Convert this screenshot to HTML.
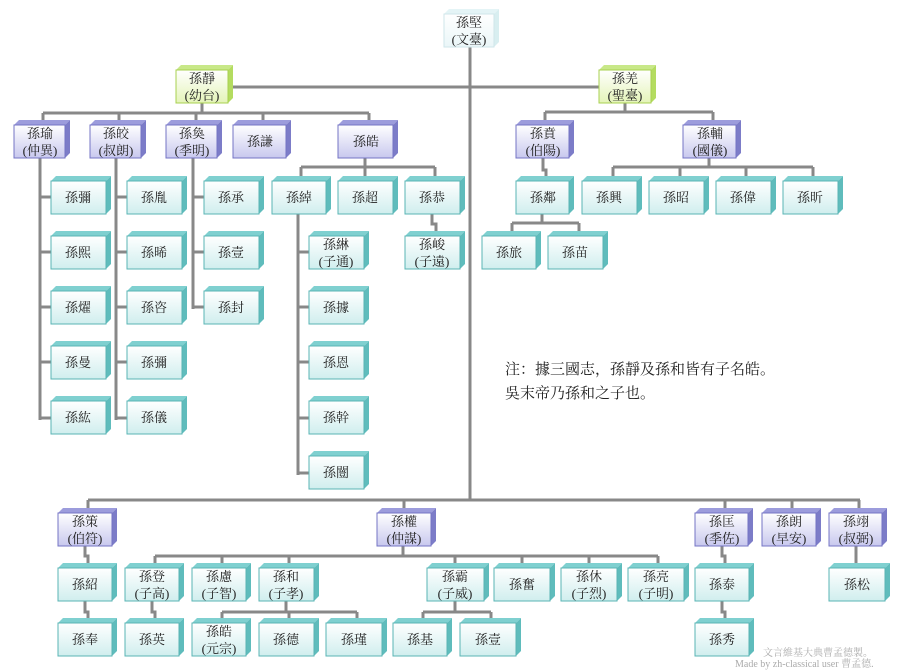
<!DOCTYPE html>
<html><head><meta charset="utf-8"><style>
body{margin:0;background:#fff;}
svg{display:block;font-family:"Liberation Serif","Noto Serif CJK SC","Noto Sans CJK TC",serif;}
.t rect{fill:url(#gt);stroke:#5ab4b4;stroke-width:1}
.t .s{fill:#5fbcbc}.t .p{fill:#7fd0d0}
.u rect{fill:url(#gu);stroke:#7474c4;stroke-width:1}
.u .s{fill:#7c7cc8}.u .p{fill:#9c9cdc}
.g rect{fill:url(#gg);stroke:#a8d050;stroke-width:1}
.g .s{fill:#b4dc60}.g .p{fill:#c8e888}
.r rect{fill:url(#gr);stroke:#cfe6ea;stroke-width:1}
.r .s{fill:#d8eef0}.r .p{fill:#e4f4f6}
text{font-size:13px;fill:#222;text-anchor:middle}
.l{stroke:#888;stroke-width:3;fill:none}
</style></head><body>
<svg width="900" height="670" viewBox="0 0 900 670" xmlns="http://www.w3.org/2000/svg">
<defs>
<linearGradient id="gt" x1="0" y1="0" x2="0" y2="1"><stop offset="0" stop-color="#ffffff"/><stop offset="1" stop-color="#d0eeee"/></linearGradient>
<linearGradient id="gu" x1="0" y1="0" x2="0" y2="1"><stop offset="0" stop-color="#ffffff"/><stop offset="1" stop-color="#c8c8ee"/></linearGradient>
<linearGradient id="gg" x1="0" y1="0" x2="0" y2="1"><stop offset="0" stop-color="#ffffff"/><stop offset="1" stop-color="#e4f4b8"/></linearGradient>
<linearGradient id="gr" x1="0" y1="0" x2="0" y2="1"><stop offset="0" stop-color="#ffffff"/><stop offset="1" stop-color="#eaf6f8"/></linearGradient>
</defs>

<!-- lines -->
<path class="l" d="M470 47V500 M228 87H599
M202 103V113 M43 113H369 M43 113V125 M119 113V125 M196 113V125 M263 113V125 M369 113V125
M40 158V420 M40 197H51 M40 252H51 M40 307H51 M40 362H51 M40 418H51
M116 158V420 M116 197H127 M116 252H127 M116 307H127 M116 362H127 M116 418H127
M193 158V309 M193 197H204 M193 252H204 M193 307H204
M365 158V167 M301 167H435 M301 167V181 M365 167V181 M435 167V181
M298 213V475 M298 252H309 M298 307H309 M298 362H309 M298 418H309 M298 473H309
M432 213V224H436V236
M625 103V112 M545 112H713 M545 112V125 M713 112V125
M543 158V170H546V181
M542 213V223 M512 223H579 M512 223V236 M579 223V236
M709 158V167 M613 167H813 M613 167V181 M680 167V181 M746 167V181 M813 167V181
M88 500H860 M88 500V513 M404 500V513 M725 500V513 M792 500V513 M859 500V513
M85 545V556H88V568 M85 601V612H88V623
M403 545V556 M155 556H658 M155 556V568 M222 556V568 M289 556V568 M455 556V568 M522 556V568 M589 556V568 M658 556V568
M152 601V612H155V623
M286 601V612 M222 612H357 M222 612V623 M289 612V623 M357 612V623
M455 601V612 M423 612H491 M423 612V623 M491 612V623
M722 545V556H725V568 M722 601V612H725V623
M856 545V568"/>

<!-- root -->
<g class="r"><polygon class="p" points="444,14 449,9 499,9 494,14"/><polygon class="s" points="494,14 499,9 499,42 494,47"/><rect x="444" y="14" width="50" height="33"/><text x="469" y="27">孫堅</text><text x="469" y="44">(文臺)</text></g>

<!-- green -->
<g class="g"><polygon class="p" points="176,70 181,65 233,65 228,70"/><polygon class="s" points="228,70 233,65 233,98 228,103"/><rect x="176" y="70" width="52" height="33"/><text x="202" y="83">孫靜</text><text x="202" y="100">(幼台)</text></g>
<g class="g"><polygon class="p" points="599,70 604,65 656,65 651,70"/><polygon class="s" points="651,70 656,65 656,98 651,103"/><rect x="599" y="70" width="52" height="33"/><text x="625" y="83">孫羌</text><text x="625" y="100">(聖臺)</text></g>

<!-- purple row -->
<g class="u"><polygon class="p" points="14,125 19,120 70,120 65,125"/><polygon class="s" points="65,125 70,120 70,153 65,158"/><rect x="14" y="125" width="51" height="33"/><text x="40" y="138">孫瑜</text><text x="40" y="155">(仲異)</text></g>
<g class="u"><polygon class="p" points="90,125 95,120 146,120 141,125"/><polygon class="s" points="141,125 146,120 146,153 141,158"/><rect x="90" y="125" width="51" height="33"/><text x="116" y="138">孫皎</text><text x="116" y="155">(叔朗)</text></g>
<g class="u"><polygon class="p" points="166,125 171,120 222,120 217,125"/><polygon class="s" points="217,125 222,120 222,153 217,158"/><rect x="166" y="125" width="51" height="33"/><text x="192" y="138">孫奐</text><text x="192" y="155">(季明)</text></g>
<g class="u"><polygon class="p" points="233,125 238,120 291,120 286,125"/><polygon class="s" points="286,125 291,120 291,153 286,158"/><rect x="233" y="125" width="53" height="33"/><text x="260" y="146">孫謙</text></g>
<g class="u"><polygon class="p" points="338,125 343,120 398,120 393,125"/><polygon class="s" points="393,125 398,120 398,153 393,158"/><rect x="338" y="125" width="55" height="33"/><text x="366" y="146">孫皓</text></g>
<g class="u"><polygon class="p" points="516,125 521,120 574,120 569,125"/><polygon class="s" points="569,125 574,120 574,153 569,158"/><rect x="516" y="125" width="53" height="33"/><text x="543" y="138">孫賁</text><text x="543" y="155">(伯陽)</text></g>
<g class="u"><polygon class="p" points="683,125 688,120 741,120 736,125"/><polygon class="s" points="736,125 741,120 741,153 736,158"/><rect x="683" y="125" width="53" height="33"/><text x="710" y="138">孫輔</text><text x="710" y="155">(國儀)</text></g>

<!-- teal upper -->
<g class="t"><polygon class="p" points="51,181 56,176 111,176 106,181"/><polygon class="s" points="106,181 111,176 111,209 106,214"/><rect x="51" y="181" width="55" height="33"/><text x="78" y="202">孫彌</text></g>
<g class="t"><polygon class="p" points="51,236 56,231 111,231 106,236"/><polygon class="s" points="106,236 111,231 111,264 106,269"/><rect x="51" y="236" width="55" height="33"/><text x="78" y="257">孫熙</text></g>
<g class="t"><polygon class="p" points="51,291 56,286 111,286 106,291"/><polygon class="s" points="106,291 111,286 111,319 106,324"/><rect x="51" y="291" width="55" height="33"/><text x="78" y="312">孫燿</text></g>
<g class="t"><polygon class="p" points="51,346 56,341 111,341 106,346"/><polygon class="s" points="106,346 111,341 111,374 106,379"/><rect x="51" y="346" width="55" height="33"/><text x="78" y="367">孫曼</text></g>
<g class="t"><polygon class="p" points="51,401 56,396 111,396 106,401"/><polygon class="s" points="106,401 111,396 111,429 106,434"/><rect x="51" y="401" width="55" height="33"/><text x="78" y="422">孫紘</text></g>

<g class="t"><polygon class="p" points="127,181 132,176 187,176 182,181"/><polygon class="s" points="182,181 187,176 187,209 182,214"/><rect x="127" y="181" width="55" height="33"/><text x="154" y="202">孫胤</text></g>
<g class="t"><polygon class="p" points="127,236 132,231 187,231 182,236"/><polygon class="s" points="182,236 187,231 187,264 182,269"/><rect x="127" y="236" width="55" height="33"/><text x="154" y="257">孫晞</text></g>
<g class="t"><polygon class="p" points="127,291 132,286 187,286 182,291"/><polygon class="s" points="182,291 187,286 187,319 182,324"/><rect x="127" y="291" width="55" height="33"/><text x="154" y="312">孫咨</text></g>
<g class="t"><polygon class="p" points="127,346 132,341 187,341 182,346"/><polygon class="s" points="182,346 187,341 187,374 182,379"/><rect x="127" y="346" width="55" height="33"/><text x="154" y="367">孫彌</text></g>
<g class="t"><polygon class="p" points="127,401 132,396 187,396 182,401"/><polygon class="s" points="182,401 187,396 187,429 182,434"/><rect x="127" y="401" width="55" height="33"/><text x="154" y="422">孫儀</text></g>

<g class="t"><polygon class="p" points="204,181 209,176 264,176 259,181"/><polygon class="s" points="259,181 264,176 264,209 259,214"/><rect x="204" y="181" width="55" height="33"/><text x="231" y="202">孫承</text></g>
<g class="t"><polygon class="p" points="204,236 209,231 264,231 259,236"/><polygon class="s" points="259,236 264,231 264,264 259,269"/><rect x="204" y="236" width="55" height="33"/><text x="231" y="257">孫壹</text></g>
<g class="t"><polygon class="p" points="204,291 209,286 264,286 259,291"/><polygon class="s" points="259,291 264,286 264,319 259,324"/><rect x="204" y="291" width="55" height="33"/><text x="231" y="312">孫封</text></g>

<g class="t"><polygon class="p" points="272,181 277,176 331,176 326,181"/><polygon class="s" points="326,181 331,176 331,209 326,214"/><rect x="272" y="181" width="54" height="33"/><text x="299" y="202">孫綽</text></g>
<g class="t"><polygon class="p" points="338,181 343,176 398,176 393,181"/><polygon class="s" points="393,181 398,176 398,209 393,214"/><rect x="338" y="181" width="55" height="33"/><text x="365" y="202">孫超</text></g>
<g class="t"><polygon class="p" points="405,181 410,176 465,176 460,181"/><polygon class="s" points="460,181 465,176 465,209 460,214"/><rect x="405" y="181" width="55" height="33"/><text x="432" y="202">孫恭</text></g>
<g class="t"><polygon class="p" points="405,236 410,231 465,231 460,236"/><polygon class="s" points="460,236 465,231 465,264 460,269"/><rect x="405" y="236" width="55" height="33"/><text x="432" y="249">孫峻</text><text x="432" y="266">(子遠)</text></g>

<g class="t"><polygon class="p" points="309,236 314,231 369,231 364,236"/><polygon class="s" points="364,236 369,231 369,264 364,269"/><rect x="309" y="236" width="55" height="33"/><text x="336" y="249">孫綝</text><text x="336" y="266">(子通)</text></g>
<g class="t"><polygon class="p" points="309,291 314,286 369,286 364,291"/><polygon class="s" points="364,291 369,286 369,319 364,324"/><rect x="309" y="291" width="55" height="33"/><text x="336" y="312">孫據</text></g>
<g class="t"><polygon class="p" points="309,346 314,341 369,341 364,346"/><polygon class="s" points="364,346 369,341 369,374 364,379"/><rect x="309" y="346" width="55" height="33"/><text x="336" y="367">孫恩</text></g>
<g class="t"><polygon class="p" points="309,401 314,396 369,396 364,401"/><polygon class="s" points="364,401 369,396 369,429 364,434"/><rect x="309" y="401" width="55" height="33"/><text x="336" y="422">孫幹</text></g>
<g class="t"><polygon class="p" points="309,456 314,451 369,451 364,456"/><polygon class="s" points="364,456 369,451 369,484 364,489"/><rect x="309" y="456" width="55" height="33"/><text x="336" y="477">孫闓</text></g>

<g class="t"><polygon class="p" points="516,181 521,176 574,176 569,181"/><polygon class="s" points="569,181 574,176 574,209 569,214"/><rect x="516" y="181" width="53" height="33"/><text x="543" y="202">孫鄰</text></g>
<g class="t"><polygon class="p" points="482,236 487,231 541,231 536,236"/><polygon class="s" points="536,236 541,231 541,264 536,269"/><rect x="482" y="236" width="54" height="33"/><text x="509" y="257">孫旅</text></g>
<g class="t"><polygon class="p" points="548,236 553,231 608,231 603,236"/><polygon class="s" points="603,236 608,231 608,264 603,269"/><rect x="548" y="236" width="55" height="33"/><text x="575" y="257">孫苗</text></g>
<g class="t"><polygon class="p" points="582,181 587,176 642,176 637,181"/><polygon class="s" points="637,181 642,176 642,209 637,214"/><rect x="582" y="181" width="55" height="33"/><text x="609" y="202">孫興</text></g>
<g class="t"><polygon class="p" points="649,181 654,176 709,176 704,181"/><polygon class="s" points="704,181 709,176 709,209 704,214"/><rect x="649" y="181" width="55" height="33"/><text x="676" y="202">孫昭</text></g>
<g class="t"><polygon class="p" points="716,181 721,176 776,176 771,181"/><polygon class="s" points="771,181 776,176 776,209 771,214"/><rect x="716" y="181" width="55" height="33"/><text x="743" y="202">孫偉</text></g>
<g class="t"><polygon class="p" points="783,181 788,176 843,176 838,181"/><polygon class="s" points="838,181 843,176 843,209 838,214"/><rect x="783" y="181" width="55" height="33"/><text x="810" y="202">孫昕</text></g>

<text x="505" y="374" style="text-anchor:start;font-size:15px">注：據三國志，孫靜及孫和皆有子名皓。</text>
<text x="505" y="398" style="text-anchor:start;font-size:15px">吳末帝乃孫和之子也。</text>

<!-- bottom purple -->
<g class="u"><polygon class="p" points="58,513 63,508 117,508 112,513"/><polygon class="s" points="112,513 117,508 117,541 112,546"/><rect x="58" y="513" width="54" height="33"/><text x="85" y="526">孫策</text><text x="85" y="543">(伯符)</text></g>
<g class="u"><polygon class="p" points="377,513 382,508 436,508 431,513"/><polygon class="s" points="431,513 436,508 436,541 431,546"/><rect x="377" y="513" width="54" height="33"/><text x="404" y="526">孫權</text><text x="404" y="543">(仲謀)</text></g>
<g class="u"><polygon class="p" points="695,513 700,508 753,508 748,513"/><polygon class="s" points="748,513 753,508 753,541 748,546"/><rect x="695" y="513" width="53" height="33"/><text x="722" y="526">孫匡</text><text x="722" y="543">(季佐)</text></g>
<g class="u"><polygon class="p" points="762,513 767,508 821,508 816,513"/><polygon class="s" points="816,513 821,508 821,541 816,546"/><rect x="762" y="513" width="54" height="33"/><text x="789" y="526">孫朗</text><text x="789" y="543">(早安)</text></g>
<g class="u"><polygon class="p" points="829,513 834,508 887,508 882,513"/><polygon class="s" points="882,513 887,508 887,541 882,546"/><rect x="829" y="513" width="53" height="33"/><text x="856" y="526">孫翊</text><text x="856" y="543">(叔弼)</text></g>

<!-- bottom teal row 2 -->
<g class="t"><polygon class="p" points="58,568 63,563 117,563 112,568"/><polygon class="s" points="112,568 117,563 117,596 112,601"/><rect x="58" y="568" width="54" height="33"/><text x="85" y="589">孫紹</text></g>
<g class="t"><polygon class="p" points="125,568 130,563 184,563 179,568"/><polygon class="s" points="179,568 184,563 184,596 179,601"/><rect x="125" y="568" width="54" height="33"/><text x="152" y="581">孫登</text><text x="152" y="598">(子高)</text></g>
<g class="t"><polygon class="p" points="192,568 197,563 251,563 246,568"/><polygon class="s" points="246,568 251,563 251,596 246,601"/><rect x="192" y="568" width="54" height="33"/><text x="219" y="581">孫慮</text><text x="219" y="598">(子智)</text></g>
<g class="t"><polygon class="p" points="259,568 264,563 319,563 314,568"/><polygon class="s" points="314,568 319,563 319,596 314,601"/><rect x="259" y="568" width="55" height="33"/><text x="286" y="581">孫和</text><text x="286" y="598">(子孝)</text></g>
<g class="t"><polygon class="p" points="427,568 432,563 489,563 484,568"/><polygon class="s" points="484,568 489,563 489,596 484,601"/><rect x="427" y="568" width="57" height="33"/><text x="455" y="581">孫霸</text><text x="455" y="598">(子威)</text></g>
<g class="t"><polygon class="p" points="494,568 499,563 555,563 550,568"/><polygon class="s" points="550,568 555,563 555,596 550,601"/><rect x="494" y="568" width="56" height="33"/><text x="522" y="589">孫奮</text></g>
<g class="t"><polygon class="p" points="561,568 566,563 622,563 617,568"/><polygon class="s" points="617,568 622,563 622,596 617,601"/><rect x="561" y="568" width="56" height="33"/><text x="589" y="581">孫休</text><text x="589" y="598">(子烈)</text></g>
<g class="t"><polygon class="p" points="628,568 633,563 689,563 684,568"/><polygon class="s" points="684,568 689,563 689,596 684,601"/><rect x="628" y="568" width="56" height="33"/><text x="656" y="581">孫亮</text><text x="656" y="598">(子明)</text></g>
<g class="t"><polygon class="p" points="695,568 700,563 754,563 749,568"/><polygon class="s" points="749,568 754,563 754,596 749,601"/><rect x="695" y="568" width="54" height="33"/><text x="722" y="589">孫泰</text></g>
<g class="t"><polygon class="p" points="829,568 834,563 890,563 885,568"/><polygon class="s" points="885,568 890,563 890,596 885,601"/><rect x="829" y="568" width="56" height="33"/><text x="857" y="589">孫松</text></g>

<!-- bottom teal row 3 -->
<g class="t"><polygon class="p" points="58,623 63,618 117,618 112,623"/><polygon class="s" points="112,623 117,618 117,651 112,656"/><rect x="58" y="623" width="54" height="33"/><text x="85" y="644">孫奉</text></g>
<g class="t"><polygon class="p" points="125,623 130,618 184,618 179,623"/><polygon class="s" points="179,623 184,618 184,651 179,656"/><rect x="125" y="623" width="54" height="33"/><text x="152" y="644">孫英</text></g>
<g class="t"><polygon class="p" points="192,623 197,618 251,618 246,623"/><polygon class="s" points="246,623 251,618 251,651 246,656"/><rect x="192" y="623" width="54" height="33"/><text x="219" y="636">孫皓</text><text x="219" y="653">(元宗)</text></g>
<g class="t"><polygon class="p" points="259,623 264,618 319,618 314,623"/><polygon class="s" points="314,623 319,618 319,651 314,656"/><rect x="259" y="623" width="55" height="33"/><text x="286" y="644">孫德</text></g>
<g class="t"><polygon class="p" points="326,623 331,618 387,618 382,623"/><polygon class="s" points="382,623 387,618 387,651 382,656"/><rect x="326" y="623" width="56" height="33"/><text x="354" y="644">孫瑾</text></g>
<g class="t"><polygon class="p" points="393,623 398,618 452,618 447,623"/><polygon class="s" points="447,623 452,618 452,651 447,656"/><rect x="393" y="623" width="54" height="33"/><text x="420" y="644">孫基</text></g>
<g class="t"><polygon class="p" points="460,623 465,618 521,618 516,623"/><polygon class="s" points="516,623 521,618 521,651 516,656"/><rect x="460" y="623" width="56" height="33"/><text x="488" y="644">孫壹</text></g>
<g class="t"><polygon class="p" points="695,623 700,618 754,618 749,623"/><polygon class="s" points="749,623 754,618 754,651 749,656"/><rect x="695" y="623" width="54" height="33"/><text x="722" y="644">孫秀</text></g>

<text x="763" y="656" style="text-anchor:start;font-size:10px;fill:#aaa">文言維基大典曹孟德製。</text>
<text x="735" y="667" style="text-anchor:start;font-size:10px;fill:#aaa">Made by zh-classical user 曹孟德.</text>
</svg>
</body></html>
